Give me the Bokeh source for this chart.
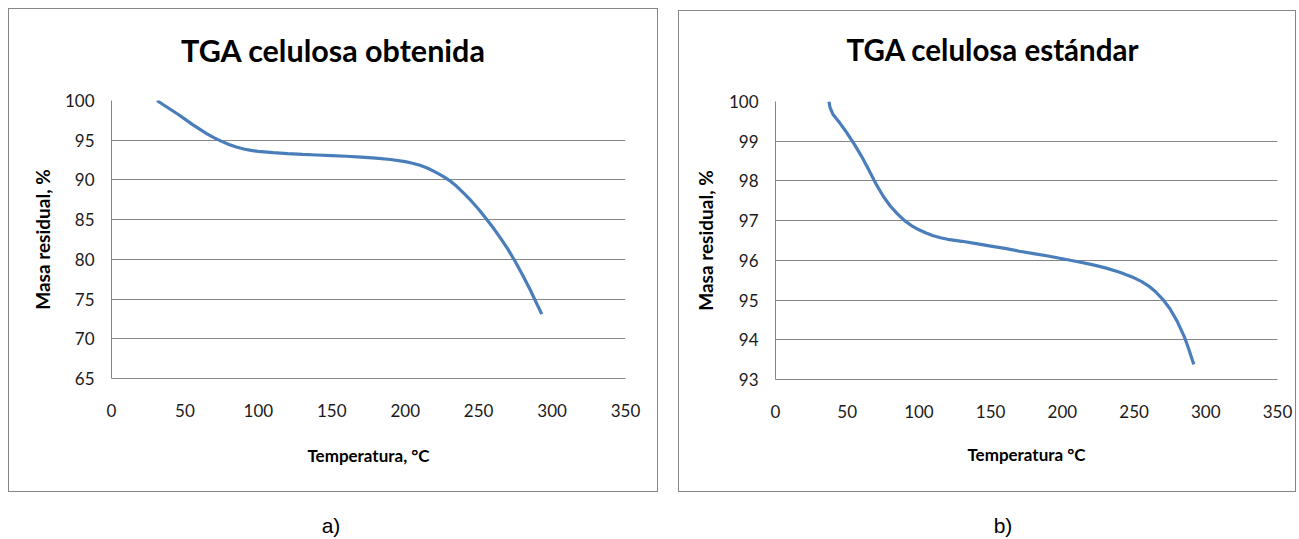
from bokeh.plotting import figure
from bokeh.layouts import row, column
from bokeh.models import Range1d, FixedTicker, Div
from bokeh.embed import file_html
from bokeh.resources import INLINE

# ---- data ----
title_a = "TGA celulosa obtenida"
title_b = "TGA celulosa estándar"
xlabel_a = "Temperatura, °C"
xlabel_b = "Temperatura °C"
ylabel = "Masa residual, %"
caption_a = "a)"
caption_b = "b)"

x_ticks = [0, 50, 100, 150, 200, 250, 300, 350]
y_ticks_a = [65, 70, 75, 80, 85, 90, 95, 100]
y_ticks_b = [93, 94, 95, 96, 97, 98, 99, 100]

temp_a = [31, 35, 40, 45, 50, 55, 60, 65, 70, 75, 80, 85, 90, 95, 100, 110, 120, 130,
          140, 150, 160, 170, 180, 190, 200, 205, 210, 215, 220, 225, 230, 235, 240,
          245, 250, 255, 260, 265, 270, 275, 280, 285, 290, 293]
mass_a = [100.0, 99.5, 98.9, 98.3, 97.65, 97.0, 96.4, 95.8, 95.3, 94.85, 94.45, 94.15,
          93.9, 93.72, 93.6, 93.43, 93.32, 93.22, 93.14, 93.06, 92.98, 92.88, 92.75,
          92.57, 92.3, 92.1, 91.85, 91.5, 91.05, 90.55, 89.95, 89.2, 88.3, 87.35, 86.3,
          85.15, 83.95, 82.65, 81.25, 79.7, 78.0, 76.2, 74.25, 73.1]

temp_b = [37.3, 38, 40, 45, 50, 55, 60, 65, 70, 75, 80, 85, 90, 95, 100, 105, 110, 115,
          120, 130, 140, 150, 160, 170, 180, 190, 200, 210, 220, 230, 240, 250, 255,
          260, 265, 270, 275, 280, 285, 288, 291, 291.7]
mass_b = [100.0, 99.85, 99.68, 99.45, 99.2, 98.92, 98.62, 98.28, 97.93, 97.62, 97.37,
          97.17, 97.0, 96.87, 96.77, 96.69, 96.62, 96.57, 96.53, 96.48, 96.42, 96.36,
          96.30, 96.23, 96.17, 96.11, 96.04, 95.97, 95.90, 95.81, 95.70, 95.56, 95.47,
          95.36, 95.21, 95.02, 94.78, 94.47, 94.08, 93.78, 93.45, 93.38]

GRID = "#868686"
LINE = "#4A7EBB"
FONT = "Lato"


def panel(width, height, b_left, b_right, b_top, b_bottom, temps, masses,
          y_lo, y_hi, y_ticks, xlabel, xlab_standoff, ylab_standoff):
    p = figure(width=width, height=height, output_backend="svg", toolbar_location=None,
               x_range=Range1d(0, 350), y_range=Range1d(y_lo, y_hi),
               min_border_left=b_left, min_border_right=b_right,
               min_border_top=b_top, min_border_bottom=b_bottom)
    p.outline_line_color = None
    p.background_fill_color = "white"
    p.border_fill_color = "white"
    p.xgrid.grid_line_color = None
    p.ygrid.grid_line_color = GRID
    p.ygrid.grid_line_width = 1
    p.xaxis.ticker = FixedTicker(ticks=x_ticks)
    p.yaxis.ticker = FixedTicker(ticks=y_ticks)
    for ax in (p.xaxis[0], p.yaxis[0]):
        ax.axis_line_color = GRID
        ax.axis_line_width = 1
        ax.major_tick_line_color = None
        ax.minor_tick_line_color = None
        ax.major_tick_out = 0
        ax.major_tick_in = 0
        ax.major_label_text_font = FONT
        ax.major_label_text_font_size = "17px"
        ax.major_label_text_color = "#1a1a1a"
        ax.axis_label_text_font = FONT
        ax.axis_label_text_font_style = "bold"
        ax.axis_label_text_color = "#000000"
    p.xaxis.axis_label_text_font_size = "17px"
    p.yaxis.axis_label_text_font_size = "19px"
    p.xaxis.major_label_standoff = 25
    p.yaxis.major_label_standoff = 17
    p.xaxis.axis_label = xlabel
    p.yaxis.axis_label = ylabel
    p.xaxis.axis_label_standoff = xlab_standoff
    p.yaxis.axis_label_standoff = ylab_standoff
    p.line(temps, masses, line_color=LINE, line_width=3.2)
    return p


def title_div(text, width, height, line_height, size, indent):
    return Div(text=text, width=width, height=height, margin=0,
               styles={"text-align": "center", "text-indent": f"{indent}px",
                       "font-family": "Lato, sans-serif", "font-weight": "bold",
                       "font-size": f"{size}px", "line-height": f"{line_height}px",
                       "color": "#000000", "white-space": "nowrap"})


def boxed(children, margin):
    return column(*children, margin=margin, spacing=0,
                  styles={"border": "1.5px solid #868686", "background": "white"})


def caption(text, margin):
    return Div(text=text, width=60, height=24, margin=margin,
               styles={"text-align": "center",
                       "font-family": "Liberation Sans, Arial, sans-serif",
                       "font-size": "21px", "color": "#000000", "line-height": "24px"})


pa = panel(648, 422, 102, 32, 31, 113, temp_a, mass_a, 65, 100, y_ticks_a,
           xlabel_a, 25, 8)
pb = panel(616, 420, 96, 18, 30, 112, temp_b, mass_b, 93, 100, y_ticks_b,
           xlabel_b, 23, 9)

ta = title_div(title_a, 648, 60, 82, 30.5, 0)
tb = title_div(title_b, 616, 60, 77, 29.5, 11)

col_a = column(boxed([ta, pa], (8, 0, 0, 8)), caption(caption_a, (22, 0, 0, 301)), spacing=0)
col_b = column(boxed([tb, pb], (10, 0, 0, 20)), caption(caption_b, (22, 0, 0, 315)), spacing=0)

layout = row(col_a, col_b, spacing=0)
open("out.html", "w").write(file_html(layout, INLINE))
